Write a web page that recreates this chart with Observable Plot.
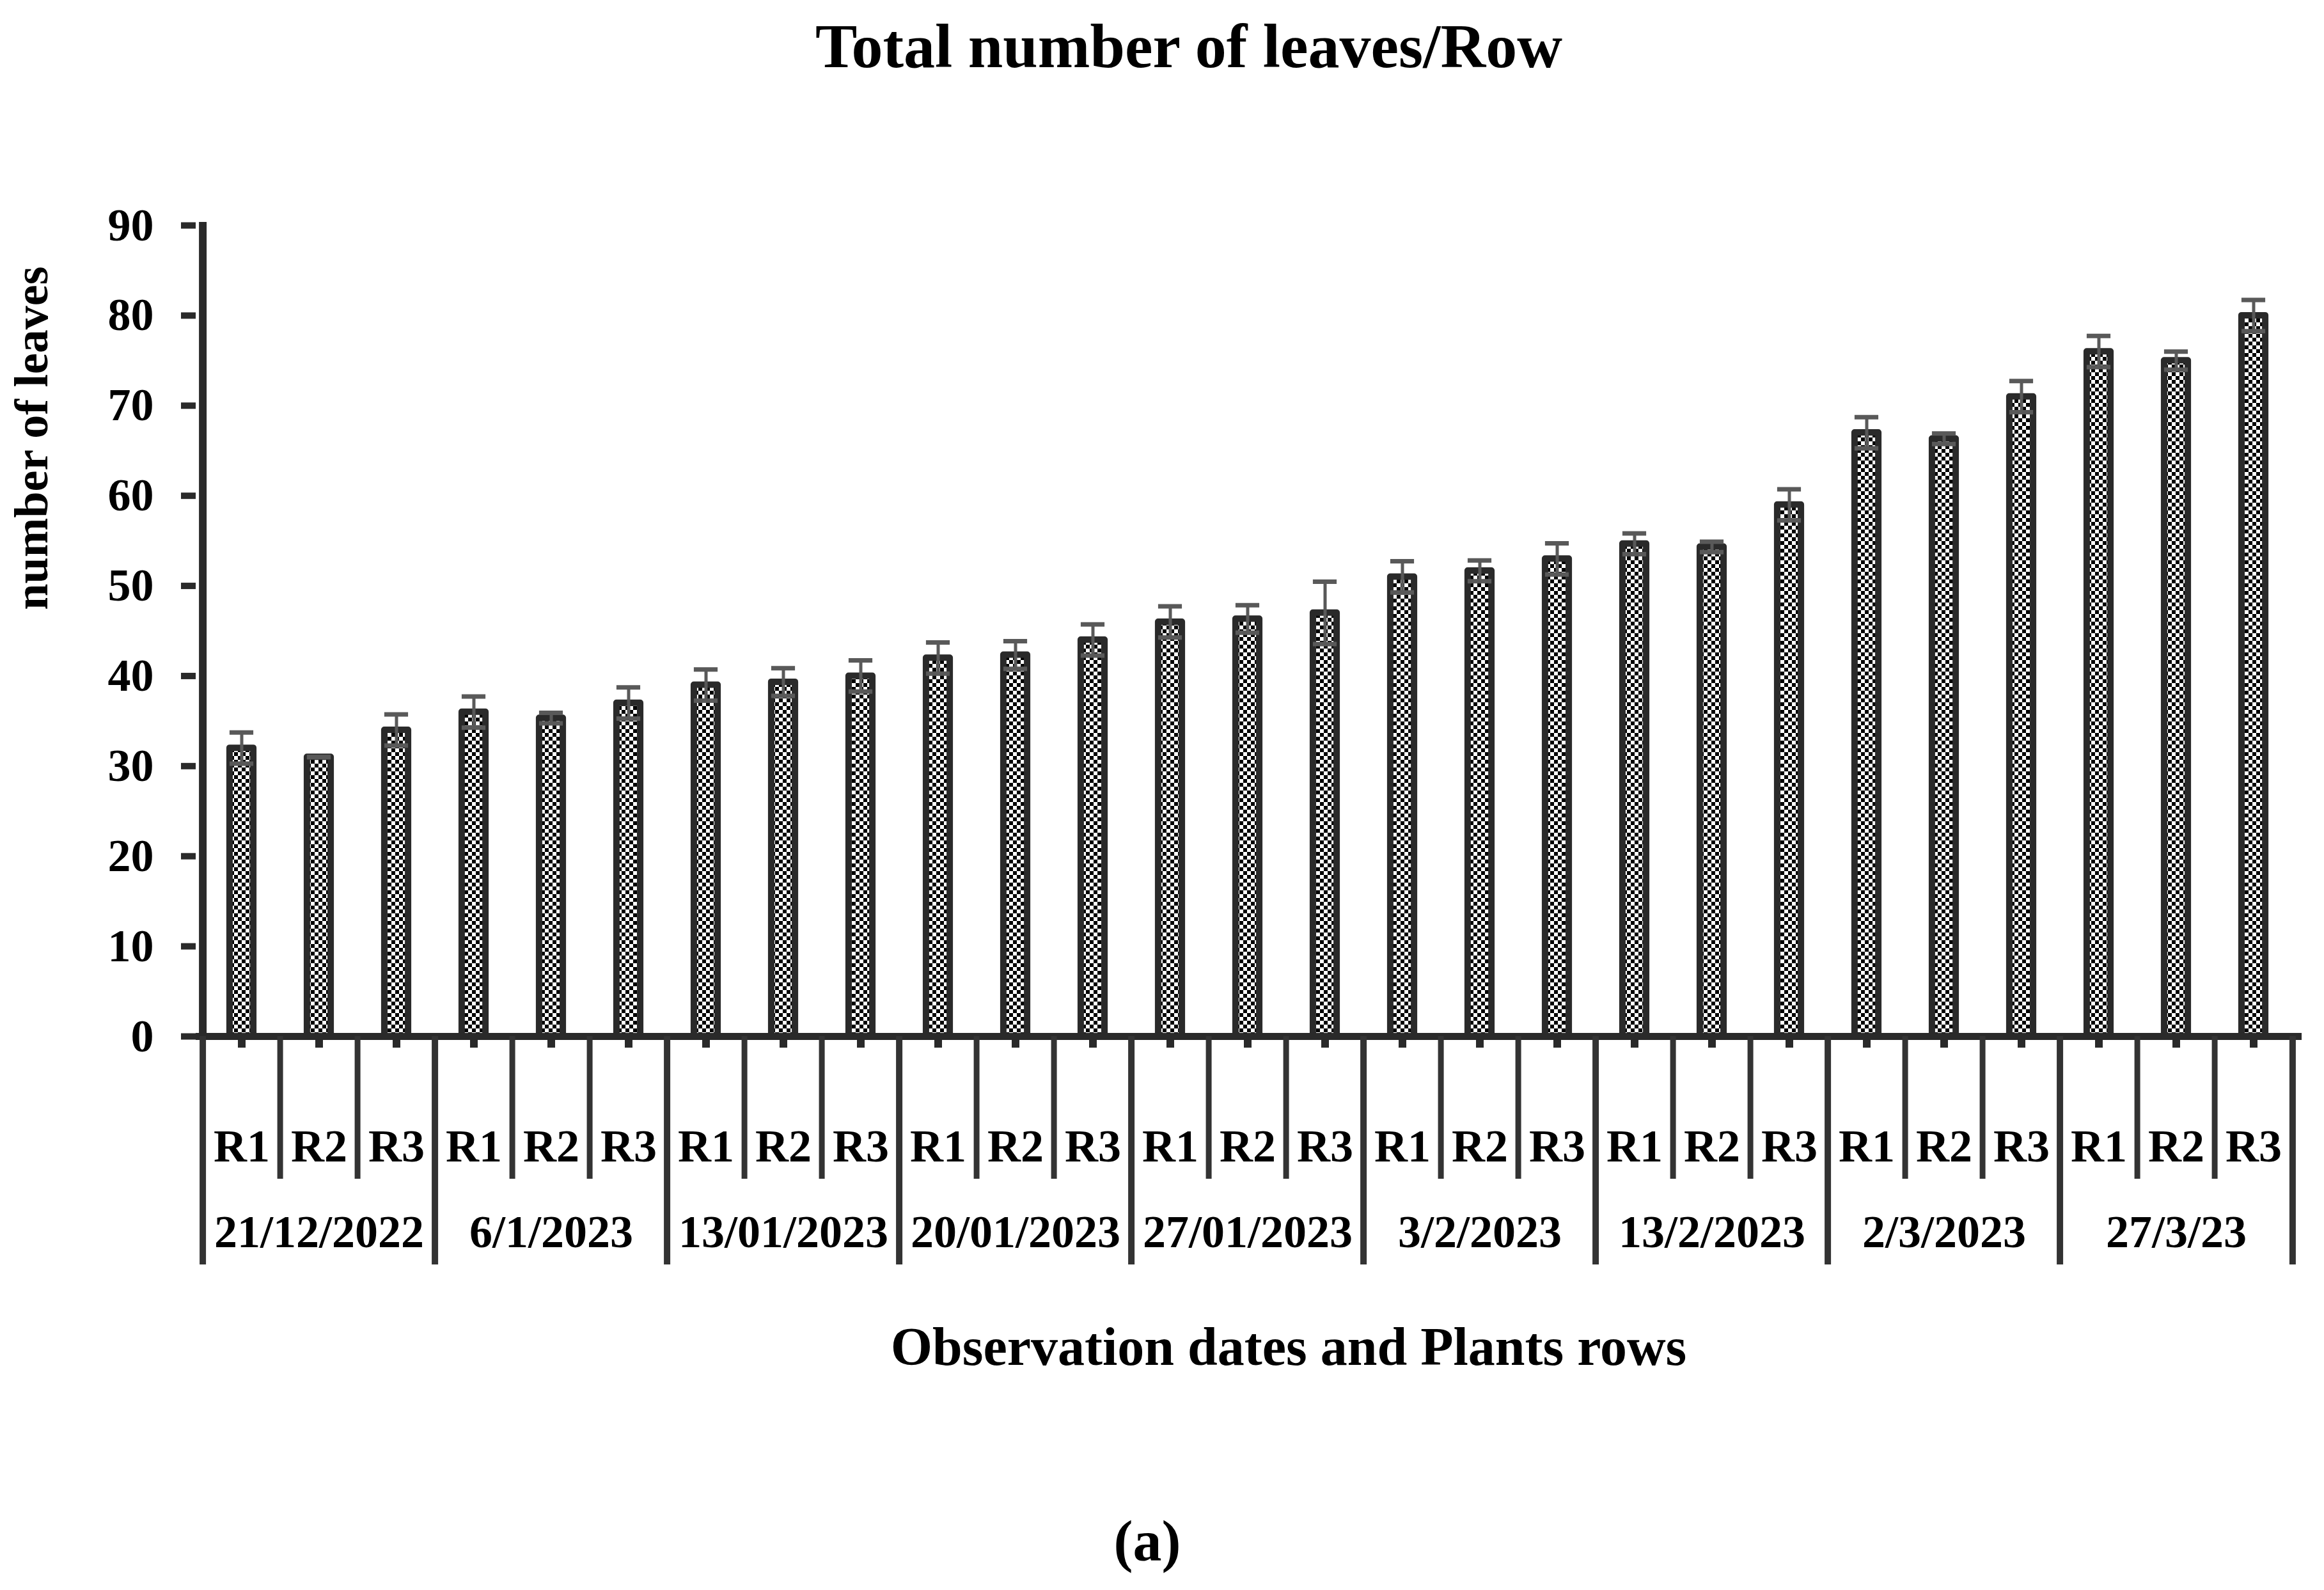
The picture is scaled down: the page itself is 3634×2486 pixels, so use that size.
<!DOCTYPE html>
<html>
<head>
<meta charset="utf-8">
<script src="https://cdn.jsdelivr.net/npm/d3@7"></script>
<script src="https://cdn.jsdelivr.net/npm/@observablehq/plot@0.6"></script>
<style>
  html, body { margin: 0; padding: 0; background: #fff; }
  body { width: 3634px; height: 2486px; position: relative; overflow: hidden;
         font-family: "Liberation Serif", "Times New Roman", serif; font-weight: bold; color: #000; }
  #title { position: absolute; left: 0; width: 3718px; top: 23px; text-align: center;
           font-size: 98px; line-height: 1; white-space: nowrap; }
  #chart { position: absolute; left: 0; top: 150px; line-height: 0; }
  #caption { position: absolute; left: 0; width: 3588px; top: 2365px; text-align: center;
             font-size: 90px; line-height: 1; }
</style>
</head>
<body>
<div id="title">Total number of leaves/Row</div>
<div id="chart"></div>
<div id="caption">(a)</div>
<script>
// ---- data ----
const dates = ["21/12/2022", "6/1/2023", "13/01/2023", "20/01/2023", "27/01/2023", "3/2/2023", "13/2/2023", "2/3/2023", "27/3/23"];
const rows = ["R1", "R2", "R3"];
const values = [32, 31, 34, 36, 35.33, 37, 39, 39.33, 40, 42, 42.33, 44, 46, 46.33, 47, 51, 51.67, 53, 54.67, 54.33, 59, 67, 66.33, 71, 76, 75, 80];
const errors = [1.73, 0, 1.73, 1.73, 0.58, 1.73, 1.73, 1.53, 1.73, 1.73, 1.53, 1.73, 1.73, 1.53, 3.46, 1.73, 1.15, 1.73, 1.15, 0.58, 1.73, 1.73, 0.58, 1.73, 1.73, 1.0, 1.73];
const yTicks = [0, 10, 20, 30, 40, 50, 60, 70, 80, 90];
const yTitle = "number of leaves";
const xTitle = "Observation dates and Plants rows";

// ---- table built from the arrays ----
const table = [];
dates.forEach((date, di) => rows.forEach((row, ri) => {
  const i = di * 3 + ri;
  table.push({key: date + "|" + row, date, row, idx: ri, value: values[i], err: errors[i]});
}));
const keys = table.map(d => d.key);

// ---- layout ----
const W = 3634, H = 2050;
const ML = 306, MR = 39, MT = 202, MB = 580;
const bw = (W - ML - MR) / keys.length;
const font = "Liberation Serif";
const axisCol = "#2a2a2a";
const errCol = "#595959";

const longSeps = table.filter(d => d.idx === 0);
const shortSeps = table.filter(d => d.idx !== 0);
const lastKey = table.slice(-1);

const chart = Plot.plot({
  width: W,
  height: H,
  marginLeft: ML,
  marginRight: MR,
  marginTop: MT,
  marginBottom: MB,
  style: {fontFamily: font, fontWeight: "bold", fontSize: "72px", color: "#000", background: "transparent"},
  x: {type: "band", domain: keys, padding: 0, axis: null},
  y: {domain: [0, 90], axis: null},
  marks: [
    // bars
    Plot.barY(table, {x: "key", y: "value", fill: "url(#checker)", stroke: axisCol, strokeWidth: 10,
      strokeLinejoin: "round", insetLeft: (bw - 38) / 2, insetRight: (bw - 38) / 2}),
    // baseline
    Plot.ruleY([0], {stroke: axisCol, strokeWidth: 11, insetRight: -4}),
    // y axis line
    Plot.ruleX(table.slice(0, 1), {x: "key", y1: 90, y2: 0, dx: -bw / 2, stroke: axisCol, strokeWidth: 12, insetTop: -5, insetBottom: -5}),
    // y axis ticks and labels
    Plot.axisY({ticks: yTicks, tickSize: 23, tickPadding: 43, stroke: axisCol, strokeWidth: 10,
      fontSize: 72, fontWeight: "bold", fontFamily: font, label: null, tickFormat: d => String(d)}),
    // small ticks under bars
    Plot.ruleX(table, {x: "key", y1: 0, y2: 0, insetBottom: -18, stroke: axisCol, strokeWidth: 12}),
    // separators between dates (long) and rows (short)
    Plot.ruleX(longSeps, {x: "key", y1: 0, y2: 0, dx: -bw / 2, insetBottom: -357, stroke: "#333", strokeWidth: 10}),
    Plot.ruleX(lastKey, {x: "key", y1: 0, y2: 0, dx: bw / 2, insetBottom: -357, stroke: "#333", strokeWidth: 10}),
    Plot.ruleX(shortSeps, {x: "key", y1: 0, y2: 0, dx: -bw / 2, insetBottom: -223, stroke: "#333", strokeWidth: 9}),
    // error bars
    Plot.ruleX(table, {x: "key", y1: d => d.value - d.err, y2: d => d.value + d.err, stroke: errCol, strokeWidth: 5}),
    Plot.tickY(table, {x: "key", y: d => d.value + d.err, stroke: errCol, strokeWidth: 7, insetLeft: (bw - 38) / 2, insetRight: (bw - 38) / 2}),
    Plot.tickY(table, {x: "key", y: d => d.value - d.err, stroke: errCol, strokeWidth: 7, insetLeft: (bw - 38) / 2, insetRight: (bw - 38) / 2}),
    // row labels
    Plot.text(table, {x: "key", text: "row", frameAnchor: "bottom", lineAnchor: "middle", dy: 172, fontSize: 72, fontWeight: "bold", fill: "#000"}),
    // date labels
    Plot.text(table.filter(d => d.idx === 1), {x: "key", text: "date", frameAnchor: "bottom", lineAnchor: "middle", dy: 306, fontSize: 72, fontWeight: "bold", fill: "#000"}),
    // axis titles
    Plot.text([xTitle], {text: d => d, frameAnchor: "bottom", lineAnchor: "middle", dy: 487, dx: 64, fontSize: 84, fontWeight: "bold", fill: "#000"}),
    Plot.text([yTitle], {text: d => d, frameAnchor: "top-left", lineAnchor: "middle", rotate: -90, textAnchor: "end", dx: -256, dy: 64, fontSize: 74, fontWeight: "bold", fill: "#000"})
  ]
});

// checkerboard pattern used by the bars
const defs = d3.select(chart).insert("defs", ":first-child");
const pat = defs.append("pattern").attr("id", "checker").attr("patternUnits", "userSpaceOnUse")
  .attr("width", 12).attr("height", 12);
pat.append("rect").attr("width", 12).attr("height", 12).attr("fill", "#fff");
pat.append("rect").attr("x", 0).attr("y", 0).attr("width", 6).attr("height", 6).attr("fill", "#000");
pat.append("rect").attr("x", 6).attr("y", 6).attr("width", 6).attr("height", 6).attr("fill", "#000");

document.getElementById("chart").appendChild(chart);
</script>
</body>
</html>
